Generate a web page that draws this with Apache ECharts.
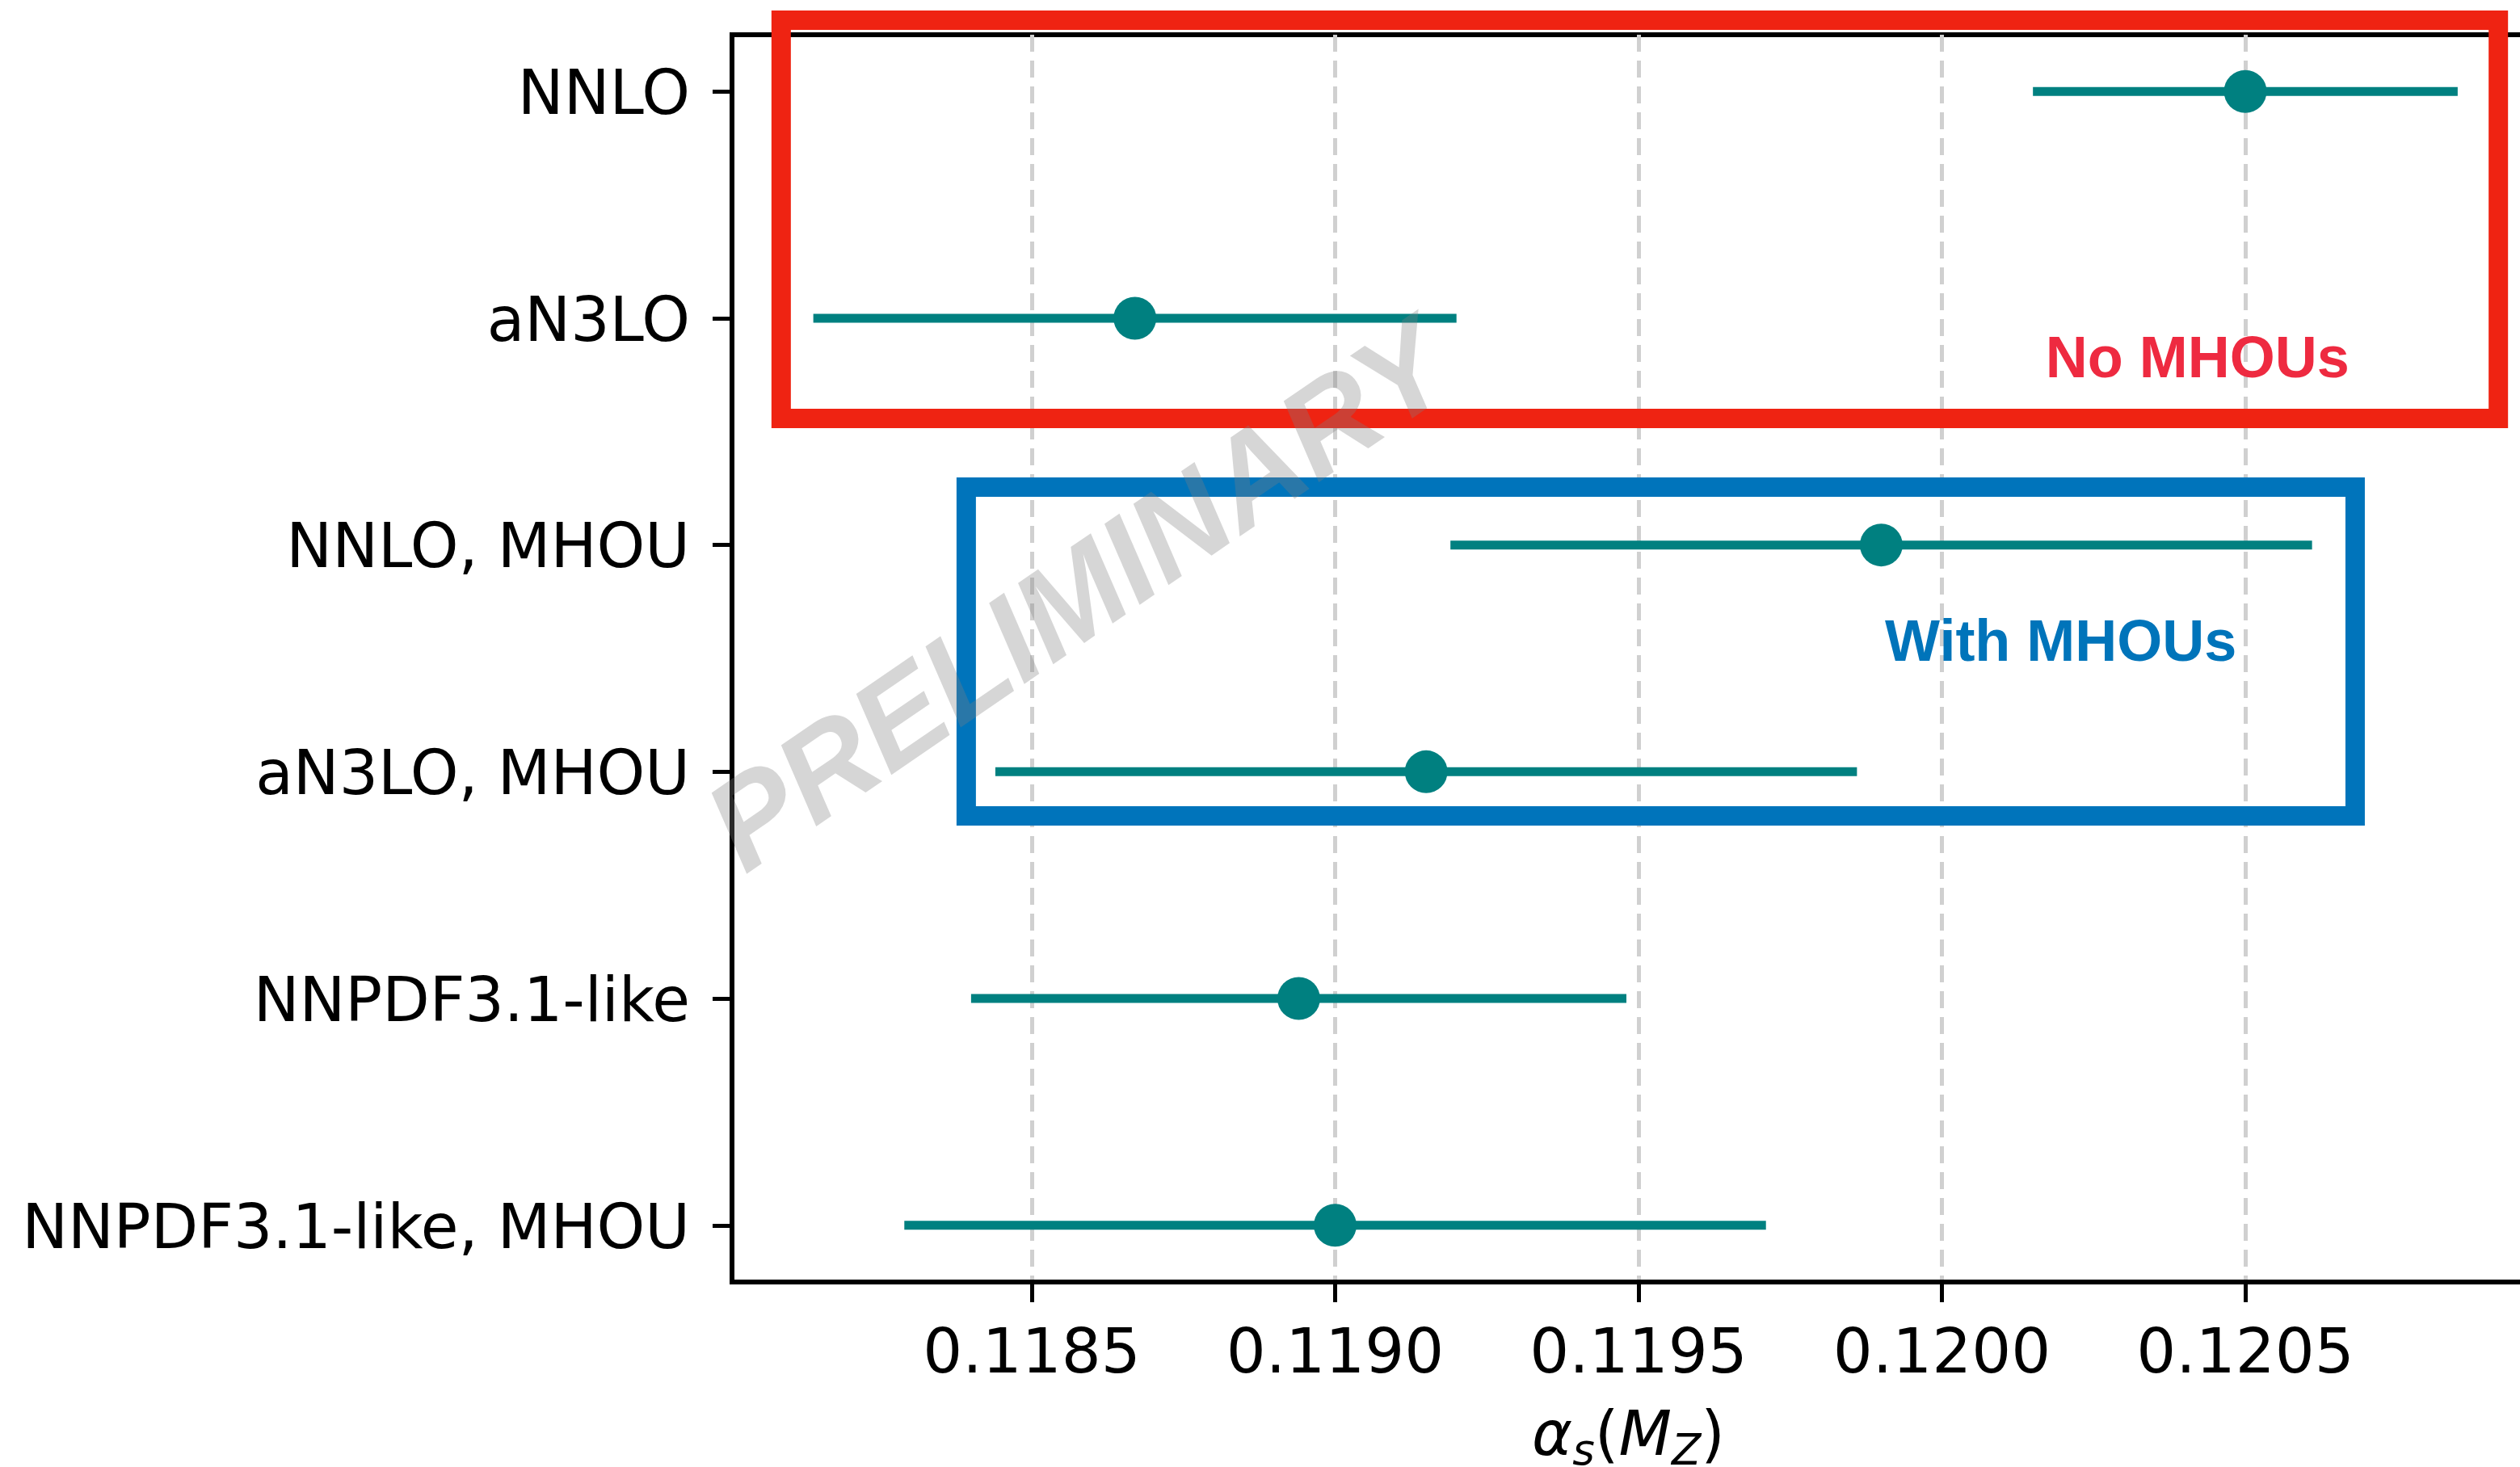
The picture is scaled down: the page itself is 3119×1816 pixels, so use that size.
<!DOCTYPE html>
<html>
<head>
<meta charset="utf-8">
<script src="https://cdn.jsdelivr.net/npm/echarts@6/dist/echarts.min.js"></script>
<style>
html,body{margin:0;padding:0;background:#fff;}
#chart{width:3119px;height:1816px;}
</style>
</head>
<body>
<div id="chart"></div>
<script>
// ---- data (top to bottom) ----
const categories = ['NNLO', 'aN3LO', 'NNLO, MHOU', 'aN3LO, MHOU', 'NNPDF3.1-like', 'NNPDF3.1-like, MHOU'];
const centralValues = [0.12050, 0.11867, 0.11990, 0.11915, 0.11894, 0.11900];
const uncertainties = [0.00035, 0.00053, 0.00071, 0.00071, 0.00054, 0.00071];
const xTicks = [0.1185, 0.1190, 0.1195, 0.1200, 0.1205];
const yTicks = [0, 1, 2, 3, 4, 5];

// annotation boxes (data coordinates)
const boxLabels = ['No MHOUs', 'With MHOUs'];
const boxXMin = [0.118087, 0.118392];
const boxXMax = [0.120917, 0.120681];
const boxYMin = [3.558, 1.805];
const boxYMax = [5.314, 3.255];
const labelX = [0.120421, 0.120196];
const labelY = [3.811, 2.560];

const boxColors = ['#ef2312', '#0074bb'];
const labelColors = ['#ee2a40', '#0074ba'];
const teal = '#008080';

const n = categories.length;
const yPos = categories.map((c, i) => n - 1 - i);

const errData = centralValues.map((v, i) => [v, yPos[i], uncertainties[i]]);
const pointData = centralValues.map((v, i) => [v, yPos[i]]);
const boxData = boxLabels.map((b, i) => [boxXMin[i], boxYMin[i], boxXMax[i], boxYMax[i], i]);
const labelData = boxLabels.map((b, i) => [labelX[i], labelY[i], i]);

const chart = echarts.init(document.getElementById('chart'), null, {renderer: 'canvas'});

const option = {
  backgroundColor: '#ffffff',
  animation: false,
  grid: {
    left: 906, right: -6, top: 43, bottom: 229,
    containLabel: false, outerBoundsMode: 'none',
    show: true, borderColor: '#000', borderWidth: 6, backgroundColor: 'transparent'
  },
  xAxis: {
    type: 'value',
    min: 0.118006,
    max: 0.1209607,
    name: '{a|α}{s|s}{p|(}{a|M}{s|Z}{p|)}',
    nameLocation: 'middle',
    nameGap: 194,
    nameTextStyle: {
      verticalAlign: 'middle',
      rich: {
        a: {fontFamily: 'DejaVu Sans', fontStyle: 'italic', fontSize: 76, lineHeight: 90, color: '#000', verticalAlign: 'middle'},
        p: {fontFamily: 'DejaVu Sans', fontSize: 76, lineHeight: 90, color: '#000', verticalAlign: 'middle'},
        s: {fontFamily: 'DejaVu Sans', fontStyle: 'italic', fontSize: 53, lineHeight: 53, color: '#000', verticalAlign: 'bottom'}
      }
    },
    axisLine: {show: true, onZero: false, lineStyle: {color: '#000', width: 6}},
    axisTick: {show: true, customValues: xTicks, length: 25, lineStyle: {color: '#000', width: 5}},
    axisLabel: {
      customValues: xTicks,
      margin: 53,
      fontFamily: 'DejaVu Sans', fontSize: 77, lineHeight: 77, color: '#000',
      formatter: v => v.toFixed(4)
    },
    splitLine: {show: true, lineStyle: {color: '#d0d0d0', width: 5, type: [21, 11]}}
  },
  yAxis: {
    type: 'value',
    min: -0.25,
    max: 5.25,
    axisLine: {show: true, onZero: false, lineStyle: {color: '#000', width: 6}},
    axisTick: {show: true, customValues: yTicks, length: 24, lineStyle: {color: '#000', width: 5}},
    axisLabel: {
      customValues: yTicks,
      margin: 52,
      fontFamily: 'DejaVu Sans', fontSize: 76, color: '#000',
      formatter: v => '{c|' + categories[n - 1 - Math.round(v)] + '}',
      rich: {
        c: {fontFamily: 'DejaVu Sans', fontSize: 76, lineHeight: 80, color: '#000', padding: [16, 0, 0, 0]}
      }
    },
    splitLine: {show: false}
  },
  series: [
    {
      name: 'boxes',
      type: 'custom',
      z: 1,
      clip: false,
      data: boxData,
      encode: {x: [0, 2], y: [1, 3]},
      renderItem: function (params, api) {
        const p0 = api.coord([api.value(0), api.value(3)]);
        const p1 = api.coord([api.value(2), api.value(1)]);
        const idx = api.value(4);
        return {
          type: 'rect',
          shape: {x: p0[0], y: p0[1], width: p1[0] - p0[0], height: p1[1] - p0[1]},
          style: {fill: 'none', stroke: boxColors[idx], lineWidth: 24, lineJoin: 'miter'}
        };
      }
    },
    {
      name: 'boxLabels',
      type: 'custom',
      z: 2,
      clip: false,
      data: labelData,
      renderItem: function (params, api) {
        const p = api.coord([api.value(0), api.value(1)]);
        const idx = api.value(2);
        return {
          type: 'text',
          x: p[0], y: p[1],
          style: {
            text: boxLabels[idx],
            fill: labelColors[idx],
            font: 'bold 72px "Liberation Sans", Arial, sans-serif',
            align: 'center', verticalAlign: 'middle'
          }
        };
      }
    },
    {
      name: 'errors',
      type: 'custom',
      z: 3,
      data: errData,
      renderItem: function (params, api) {
        const c = api.value(0), y = api.value(1), e = api.value(2);
        const a = api.coord([c - e, y]);
        const b = api.coord([c + e, y]);
        return {
          type: 'line',
          shape: {x1: a[0], y1: a[1], x2: b[0], y2: b[1]},
          style: {stroke: teal, lineWidth: 11, lineCap: 'butt'}
        };
      }
    },
    {
      name: 'central',
      type: 'scatter',
      z: 4,
      symbol: 'circle',
      symbolSize: 53,
      itemStyle: {color: teal, opacity: 1},
      data: pointData
    }
  ],
  graphic: [
    {
      type: 'text',
      x: 1340, y: 745,
      rotation: 34.4 * Math.PI / 180,
      z: 100,
      silent: true,
      style: {
        text: 'PRELIMINARY',
        font: 'italic bold 156px "Liberation Sans", Arial, sans-serif',
        fill: 'rgba(128,128,128,0.32)',
        align: 'center', verticalAlign: 'middle'
      }
    }
  ]
};
chart.setOption(option);
</script>
</body>
</html>
